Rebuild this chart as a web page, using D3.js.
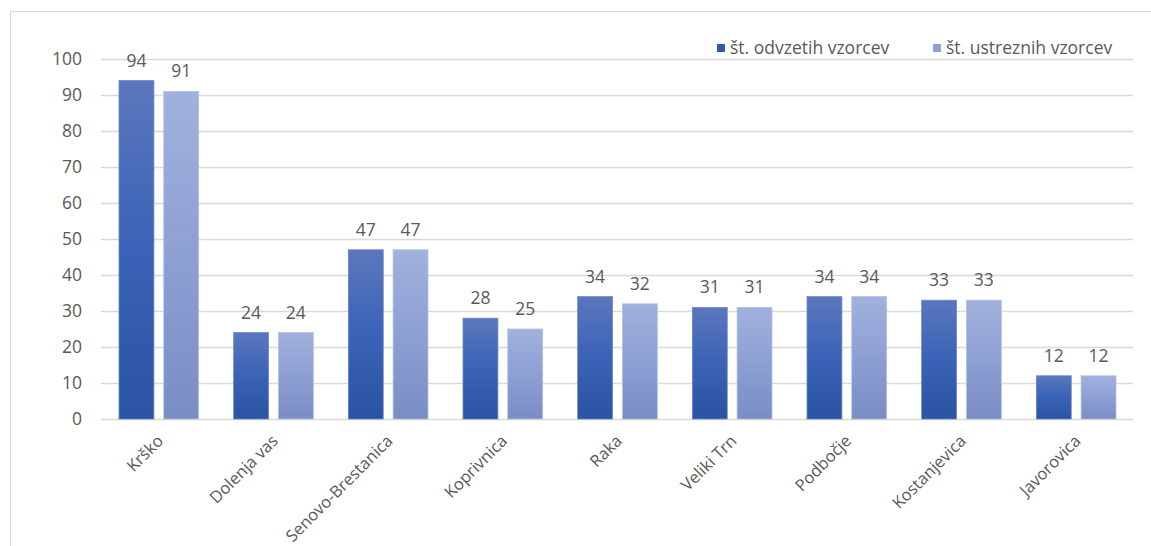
<!DOCTYPE html>
<html>
<head>
<meta charset="utf-8">
<script src="https://cdnjs.cloudflare.com/ajax/libs/d3/7.8.5/d3.min.js"></script>
<style>
  body { margin: 0; background: #fff; }
  text { font-family: "Open Sans", "Liberation Sans", sans-serif; fill: #595959; }
</style>
</head>
<body>
<div id="chart"></div>
<script>
// data
var categories = ["Krško", "Dolenja vas", "Senovo-Brestanica", "Koprivnica", "Raka",
    "Veliki Trn", "Podbočje", "Kostanjevica", "Javorovica"];
var seriesNames = ["št. odvzetih vzorcev", "št. ustreznih vzorcev"];
var taken = [94, 24, 47, 28, 34, 31, 34, 33, 12];
var suitable = [91, 24, 47, 25, 32, 31, 34, 33, 12];
var yTicks = [0, 10, 20, 30, 40, 50, 60, 70, 80, 90, 100];

var svgWidth = 1151;
var svgHeight = 546;

var margin = { top: 59, right: 18, bottom: 127, left: 101 };
var chartWidth = svgWidth - margin.left - margin.right;
var chartHeight = svgHeight - margin.top - margin.bottom;

var svg = d3.select("#chart").append("svg")
    .attr("width", svgWidth)
    .attr("height", svgHeight);

// outer frame
svg.append("rect")
    .attr("x", 10.5).attr("y", 11.5)
    .attr("width", 1200).attr("height", 600)
    .attr("fill", "none")
    .attr("stroke", "#d9d9d9");

// gradients
var defs = svg.append("defs");
var grads = [
    [["0%", "#5b77bd"], ["50%", "#3a62b6"], ["100%", "#2b53a3"]],
    [["0%", "#a1b1dd"], ["50%", "#8da0d4"], ["100%", "#798dc5"]]
];
grads.forEach(function (stops, i) {
    var g = defs.append("linearGradient")
        .attr("id", "grad" + i)
        .attr("x1", 0).attr("y1", 0).attr("x2", 0).attr("y2", 1);
    stops.forEach(function (s) {
        g.append("stop").attr("offset", s[0]).attr("stop-color", s[1]);
    });
});

var chartGroup = svg.append("g")
    .attr("transform", `translate(${margin.left}, ${margin.top})`);

// scales
var xScale = d3.scaleBand()
    .domain(categories)
    .range([0, chartWidth]);

var xInner = d3.scaleBand()
    .domain([0, 1])
    .range([18, xScale.bandwidth() - 17])
    .paddingInner(0.22);

var yScale = d3.scaleLinear()
    .domain([0, 100])
    .range([chartHeight, 0]);

// gridlines
chartGroup.append("g")
    .selectAll("line")
    .data(yTicks)
    .enter()
    .append("line")
    .attr("x1", 0)
    .attr("x2", chartWidth)
    .attr("y1", d => Math.round(yScale(d)) + 0.5)
    .attr("y2", d => Math.round(yScale(d)) + 0.5)
    .attr("stroke", "#d9d9d9")
    .attr("stroke-width", 1.3);

// y axis labels
var yAxis = d3.axisLeft(yScale).tickValues(yTicks).tickSize(0).tickPadding(19);
var yg = chartGroup.append("g").call(yAxis);
yg.select(".domain").remove();
yg.selectAll("text").attr("font-size", "17.5px").style("font-family", null).attr("fill", null);

// x labels
chartGroup.append("g")
    .selectAll("text")
    .data(categories)
    .enter()
    .append("text")
    .attr("transform", d => `translate(${xScale(d) + xScale.bandwidth() / 2 + 6}, ${chartHeight + 23}) rotate(-45)`)
    .attr("text-anchor", "end")
    .attr("font-size", "16.5px")
    .text(d => d);

// bars
var series = [taken, suitable];
series.forEach(function (values, si) {
    var g = chartGroup.append("g");
    g.selectAll("rect")
        .data(values)
        .enter()
        .append("rect")
        .attr("x", (d, i) => xScale(categories[i]) + xInner(si))
        .attr("y", d => yScale(d))
        .attr("width", xInner.bandwidth())
        .attr("height", d => chartHeight - yScale(d))
        .attr("fill", "url(#grad" + si + ")")
        .attr("stroke", si === 0 ? "#6d87c6" : "#b3c0e4")
        .attr("stroke-width", 0.8);

    g.selectAll("text")
        .data(values)
        .enter()
        .append("text")
        .attr("x", (d, i) => xScale(categories[i]) + xInner(si) + xInner.bandwidth() / 2)
        .attr("y", d => yScale(d) - 14)
        .attr("text-anchor", "middle")
        .attr("font-size", "17.5px")
        .text(d => d);
});

// legend
var legendX = [717, 933];
var legend = svg.append("g");
seriesNames.forEach(function (name, i) {
    legend.append("rect")
        .attr("x", legendX[i])
        .attr("y", 44)
        .attr("width", 8)
        .attr("height", 8)
        .attr("fill", i === 0 ? "#3459ab" : "#8d9fd3");
    legend.append("text")
        .attr("x", legendX[i] + 13)
        .attr("y", 54)
        .attr("font-size", "17.5px")
        .text(name);
});
</script>
</body>
</html>
